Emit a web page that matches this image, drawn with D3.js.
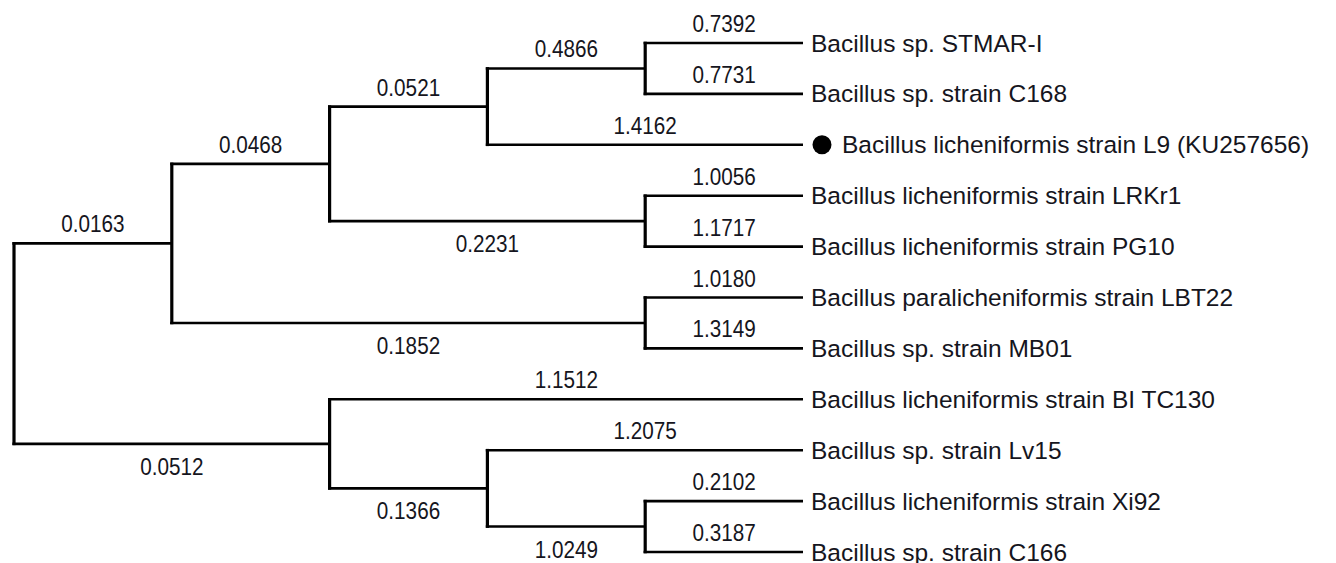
<!DOCTYPE html>
<html>
<head>
<meta charset="utf-8">
<script src="https://cdn.jsdelivr.net/npm/d3@7"></script>
<style>
  html, body { margin: 0; padding: 0; background: #fff; }
  svg { display: block; }
</style>
</head>
<body>
<svg id="chart" width="1336" height="563"></svg>
<script>
// ---- Data ----
const nodeIds   = ["root","A","B","C","D","STMAR","C168","L9","E","LRKr1","PG10","F","LBT22","MB01","G","BI","H","Lv15","I","Xi92","C166"];
const parentIds = ["","root","A","B","C","D","D","C","B","E","E","A","F","F","root","G","G","H","H","I","I"];
const branchLengths = [null, 0.0163, 0.0468, 0.0521, 0.4866, 0.7392, 0.7731, 1.4162, 0.2231, 1.0056, 1.1717, 0.1852, 1.0180, 1.3149, 0.0512, 1.1512, 0.1366, 1.2075, 1.0249, 0.2102, 0.3187];
const leafIds    = ["STMAR","C168","L9","LRKr1","PG10","LBT22","MB01","BI","Lv15","Xi92","C166"];
const leafLabels = [
  "Bacillus sp. STMAR-I",
  "Bacillus sp. strain C168",
  "Bacillus licheniformis strain L9 (KU257656)",
  "Bacillus licheniformis strain LRKr1",
  "Bacillus licheniformis strain PG10",
  "Bacillus paralicheniformis strain LBT22",
  "Bacillus sp. strain MB01",
  "Bacillus licheniformis strain BI TC130",
  "Bacillus sp. strain Lv15",
  "Bacillus licheniformis strain Xi92",
  "Bacillus sp. strain C166"
];
const highlightedLeaf = "L9";

// ---- Build tree ----
const rows = nodeIds.map((id, i) => ({ id, parent: parentIds[i] || null, len: branchLengths[i] }));
const root = d3.stratify().id(d => d.id).parentId(d => d.parent)(rows);
d3.cluster().size([1, 1]).separation(() => 1)(root);

const leaves = root.leaves();
const xScale = d3.scaleLinear().domain([0, 1]).range([14, 803]);           // depth (node.y)
const yScale = d3.scaleLinear().domain(d3.extent(leaves, d => d.x)).range([43, 552]); // order (node.x)

const svg = d3.select("#chart");
svg.append("rect").attr("width", 1336).attr("height", 563).attr("fill", "#fff");

const g = svg.append("g");

// vertical connectors at internal nodes
const internals = root.descendants().filter(d => d.children);
g.selectAll("line.v").data(internals).join("line")
  .attr("class", "v")
  .attr("x1", d => xScale(d.y)).attr("x2", d => xScale(d.y))
  .attr("y1", d => yScale(d.children[0].x) - 1.3)
  .attr("y2", d => yScale(d.children[d.children.length - 1].x) + 1.3)
  .attr("stroke", "#000").attr("stroke-width", 3.2);

// horizontal branches
const links = root.descendants().filter(d => d.parent);
g.selectAll("line.h").data(links).join("line")
  .attr("class", "h")
  .attr("x1", d => xScale(d.parent.y) - 1.6).attr("x2", d => xScale(d.y))
  .attr("y1", d => yScale(d.x)).attr("y2", d => yScale(d.x))
  .attr("stroke", "#000").attr("stroke-width", 2.6);

// branch length labels
g.selectAll("text.bl").data(links).join("text")
  .attr("class", "bl")
  .attr("transform", d => {
    const cx = (xScale(d.parent.y) + xScale(d.y)) / 2;
    const isLowerInternal = d.children && d.parent.children[d.parent.children.length - 1] === d;
    const by = yScale(d.x) + (isLowerInternal ? 31 : -11);
    return `translate(${cx},${by}) scale(0.9,1)`;
  })
  .attr("text-anchor", "middle")
  .attr("font-family", "'Liberation Sans', Arial, sans-serif")
  .attr("font-size", 23)
  .attr("fill", "#151520")
  .text(d => d.data.len.toFixed(4));

// leaf labels
const labelOf = id => leafLabels[leafIds.indexOf(id)];
const leafG = g.selectAll("g.leaf").data(leaves).join("g")
  .attr("class", "leaf")
  .attr("transform", d => `translate(${xScale(d.y)},${yScale(d.x)})`);

leafG.filter(d => d.id === highlightedLeaf).append("circle")
  .attr("cx", 19).attr("cy", 0).attr("r", 9.5).attr("fill", "#000");

leafG.append("text")
  .attr("x", d => d.id === highlightedLeaf ? 39 : 8)
  .attr("dy", "0.35em")
  .attr("font-family", "'Liberation Sans', Arial, sans-serif")
  .attr("font-size", 24.5)
  .attr("fill", "#151520")
  .text(d => labelOf(d.id));
</script>
</body>
</html>
